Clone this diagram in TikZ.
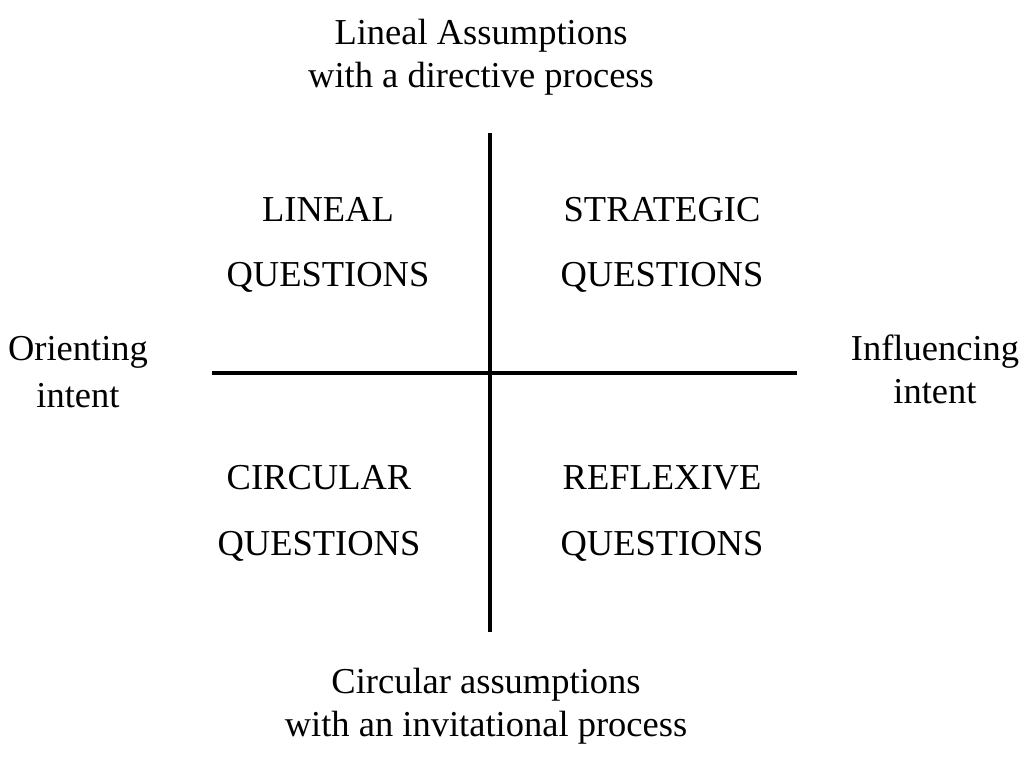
\documentclass[tikz,border=0pt]{standalone}
\usepackage{fontspec}
\setmainfont{Liberation Serif}
\begin{document}
\begin{tikzpicture}[x=1pt,y=-1pt,
  lbl/.style={anchor=base,inner sep=0pt,font=\fontsize{36.5}{40}\selectfont},
  axis/.style={line width=3.6pt}]
\useasboundingbox (0,0) rectangle (1032,757);
\coordinate (vt) at (490,133);
\coordinate (vb) at (490,632);
\coordinate (hl) at (212,373);
\coordinate (hr) at (797,373);
\draw[axis] (vt) -- (vb);
\draw[axis] (hl) -- (hr);
\node[lbl] (top1) at (481,45) {Lineal Assumptions};
\node[lbl] (top2) at (481,88) {with a directive process};
\node[lbl] (q1a) at (328,221) {LINEAL};
\node[lbl] (q1b) at (328,286) {QUESTIONS};
\node[lbl] (q2a) at (662,221) {STRATEGIC};
\node[lbl] (q2b) at (662,286) {QUESTIONS};
\node[lbl] (l1) at (78,360) {Orienting};
\node[lbl] (l2) at (78,407) {intent};
\node[lbl] (r1) at (935,360) {Influencing};
\node[lbl] (r2) at (935,403) {intent};
\node[lbl] (q3a) at (319,489) {CIRCULAR};
\node[lbl] (q3b) at (319,555) {QUESTIONS};
\node[lbl] (q4a) at (662,489) {REFLEXIVE};
\node[lbl] (q4b) at (662,555) {QUESTIONS};
\node[lbl] (b1) at (486,693) {Circular assumptions};
\node[lbl] (b2) at (486,736) {with an invitational process};
\end{tikzpicture}
\end{document}
